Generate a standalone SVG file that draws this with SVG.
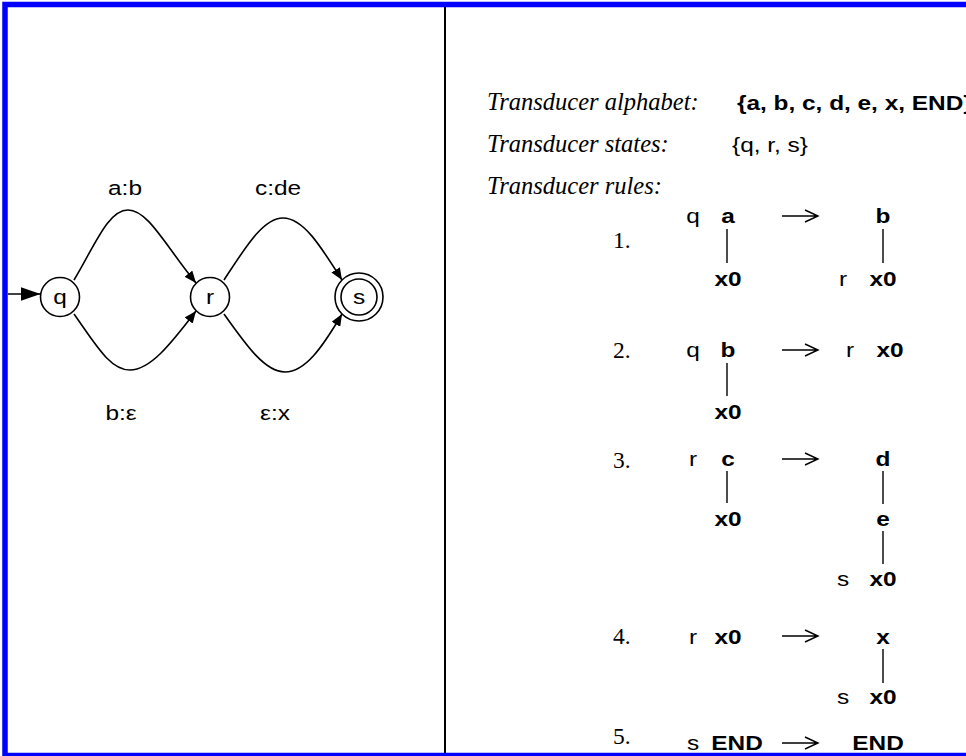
<svg xmlns="http://www.w3.org/2000/svg" width="966" height="756" viewBox="0 0 966 756">
<style>
.s{font-family:"Liberation Sans",Arial,sans-serif;font-size:20.5px;fill:#000}
.b{font-weight:bold}
.m{text-anchor:middle}
.ti{font-family:"Liberation Serif","Times New Roman",serif;font-style:italic;font-size:24.5px;fill:#000}
.tn{font-family:"Liberation Serif","Times New Roman",serif;font-size:23.5px;fill:#000}
.edge{fill:none;stroke:#000;stroke-width:1.6}
.node{fill:#fff;stroke:#000;stroke-width:1.6}
.tl{stroke:#000;stroke-width:1.4}
.arr{fill:none;stroke:#000;stroke-width:1.4}
</style>
<defs>
<marker id="ah" viewBox="0 0 12 10" refX="12" refY="5" markerWidth="12" markerHeight="10" markerUnits="userSpaceOnUse" orient="auto">
<path d="M0,0 L12,5 L0,10 Z" fill="#000"/>
</marker>
<marker id="ah2" viewBox="0 0 20 14" refX="20" refY="7" markerWidth="20" markerHeight="14" markerUnits="userSpaceOnUse" orient="auto">
<path d="M0,0 L20,7 L0,14 Z" fill="#000"/>
</marker>
</defs>
<rect x="0" y="0" width="966" height="756" fill="#fff"/>

<g id="connectors">
<line class="edge" x1="8" y1="294" x2="40.5" y2="294" marker-end="url(#ah2)"/>
<path class="edge" d="M74,280 C95,245 108,210 128,210 C148,210 165,245 196,283" marker-end="url(#ah)"/>
<path class="edge" d="M74,314 C96,345 110,370 130,370 C150,370 170,345 196,311" marker-end="url(#ah)"/>
<path class="edge" d="M224,280 C245,248 263,218 283,218 C303,218 320,245 342,280" marker-end="url(#ah)"/>
<path class="edge" d="M224,314 C246,345 265,372 285,372 C305,372 322,348 342,314" marker-end="url(#ah)"/>
</g>

<g id="node-q">
<circle class="node" cx="60" cy="297" r="19.5"/>
<text class="s m" transform="translate(60,304) scale(1.19,1)">q</text>
</g>
<g id="node-r">
<circle class="node" cx="210" cy="297" r="19.5"/>
<text class="s m" transform="translate(210,304) scale(1.19,1)">r</text>
</g>
<g id="node-s">
<circle class="node" cx="359" cy="297" r="24"/>
<circle class="node" cx="359" cy="297" r="18"/>
<text class="s m" transform="translate(359,304) scale(1.19,1)">s</text>
</g>

<g id="edge-labels">
<text class="s m" transform="translate(125,195) scale(1.19,1)">a:b</text>
<text class="s m" transform="translate(278,195) scale(1.19,1)">c:de</text>
<text class="s m" transform="translate(121,420) scale(1.19,1)">b:ε</text>
<text class="s m" transform="translate(275,420) scale(1.19,1)">ε:x</text>
</g>

<line x1="445" y1="6" x2="445" y2="756" stroke="#000" stroke-width="2"/>

<g id="header">
<text class="ti" x="487" y="110">Transducer alphabet:</text>
<text class="s b" transform="translate(737,110) scale(1.19,1)">{a, b, c, d, e, x, END}</text>
<text class="ti" x="487" y="152">Transducer states:</text>
<text class="s" transform="translate(732,152) scale(1.19,1)">{q, r, s}</text>
<text class="ti" x="487" y="194">Transducer rules:</text>
</g>

<g id="rule1">
<text class="tn" x="613" y="248">1.</text>
<text class="s m" transform="translate(693,223) scale(1.19,1)">q</text>
<text class="s b m" transform="translate(728,223) scale(1.19,1)">a</text>
<line class="tl" x1="727" y1="229" x2="727" y2="263"/>
<text class="s b m" transform="translate(728,286) scale(1.19,1)">x0</text>
<path class="arr" d="M782,216 H818 M805,210 L818,216 L805,222"/>
<text class="s b m" transform="translate(883,223) scale(1.19,1)">b</text>
<line class="tl" x1="883" y1="229" x2="883" y2="263"/>
<text class="s m" transform="translate(843,286) scale(1.19,1)">r</text>
<text class="s b m" transform="translate(883,286) scale(1.19,1)">x0</text>
</g>

<g id="rule2">
<text class="tn" x="613" y="358">2.</text>
<text class="s m" transform="translate(693,357) scale(1.19,1)">q</text>
<text class="s b m" transform="translate(728,357) scale(1.19,1)">b</text>
<line class="tl" x1="727" y1="363" x2="727" y2="396"/>
<text class="s b m" transform="translate(728,419) scale(1.19,1)">x0</text>
<path class="arr" d="M782,350 H818 M805,344 L818,350 L805,356"/>
<text class="s m" transform="translate(850,357) scale(1.19,1)">r</text>
<text class="s b m" transform="translate(890,357) scale(1.19,1)">x0</text>
</g>

<g id="rule3">
<text class="tn" x="613" y="468">3.</text>
<text class="s m" transform="translate(693,466) scale(1.19,1)">r</text>
<text class="s b m" transform="translate(728,466) scale(1.19,1)">c</text>
<line class="tl" x1="727" y1="471" x2="727" y2="503"/>
<text class="s b m" transform="translate(728,526) scale(1.19,1)">x0</text>
<path class="arr" d="M782,459 H818 M805,453 L818,459 L805,465"/>
<text class="s b m" transform="translate(883,466) scale(1.19,1)">d</text>
<line class="tl" x1="883" y1="471" x2="883" y2="504"/>
<text class="s b m" transform="translate(883,526) scale(1.19,1)">e</text>
<line class="tl" x1="883" y1="531" x2="883" y2="564"/>
<text class="s m" transform="translate(843,586) scale(1.19,1)">s</text>
<text class="s b m" transform="translate(883,586) scale(1.19,1)">x0</text>
</g>

<g id="rule4">
<text class="tn" x="613" y="644">4.</text>
<text class="s m" transform="translate(693,644) scale(1.19,1)">r</text>
<text class="s b m" transform="translate(728,644) scale(1.19,1)">x0</text>
<path class="arr" d="M782,636 H818 M805,630 L818,636 L805,642"/>
<text class="s b m" transform="translate(883,644) scale(1.19,1)">x</text>
<line class="tl" x1="883" y1="649" x2="883" y2="683"/>
<text class="s m" transform="translate(843,704) scale(1.19,1)">s</text>
<text class="s b m" transform="translate(883,704) scale(1.19,1)">x0</text>
</g>

<g id="rule5">
<text class="tn" x="613" y="744">5.</text>
<text class="s m" transform="translate(693,750) scale(1.19,1)">s</text>
<text class="s b m" transform="translate(737,750) scale(1.19,1)">END</text>
<path class="arr" d="M782,743 H818 M805,737 L818,743 L805,749"/>
<text class="s b m" transform="translate(878,750) scale(1.19,1)">END</text>
</g>

<rect x="5" y="4.5" width="1000" height="751" fill="none" stroke="#0000ff" stroke-width="5.5"/>
</svg>
